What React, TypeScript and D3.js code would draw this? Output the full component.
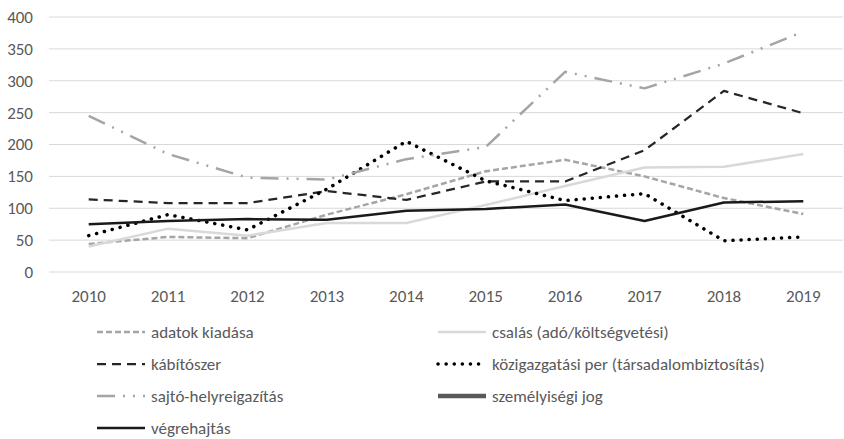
import React from "react";
import * as d3 from "d3";

const years = ["2010", "2011", "2012", "2013", "2014", "2015", "2016", "2017", "2018", "2019"];
const yTicks = [0, 50, 100, 150, 200, 250, 300, 350, 400];

const adatokKiadasa = [44, 55, 53, 90, 122, 158, 176, 150, 116, 91];
const csalas = [40, 68, 57, 77, 77, 105, 135, 164, 165, 185];
const kabitoszer = [114, 108, 108, 127, 113, 142, 142, 191, 284, 249];
const kozigazgatasi = [57, 90, 66, 130, 205, 143, 112, 123, 49, 55];
const sajto = [245, 185, 148, 145, 177, 196, 314, 288, 327, 377];
const szemelyisegi: number[] = [];
const vegrehajtas = [75, 80, 83, 82, 96, 99, 106, 80, 109, 111];

const series = [
  { name: "adatok kiadása", values: adatokKiadasa, color: "#a5a5a5", width: 2.5, dash: "6,3", cap: "butt" },
  { name: "csalás (adó/költségvetési)", values: csalas, color: "#d9d9d9", width: 2.5, dash: "", cap: "butt" },
  { name: "kábítószer", values: kabitoszer, color: "#262626", width: 2.25, dash: "9,6", cap: "butt" },
  { name: "közigazgatási per (társadalombiztosítás)", values: kozigazgatasi, color: "#000000", width: 3.5, dash: "0.1,8", cap: "round" },
  { name: "sajtó-helyreigazítás", values: sajto, color: "#a5a5a5", width: 2.5, dash: "18,8,2,8,2,8", cap: "butt" },
  { name: "személyiségi jog", values: szemelyisegi, color: "#595959", width: 4.5, dash: "", cap: "butt" },
  { name: "végrehajtás", values: vegrehajtas, color: "#1a1a1a", width: 2.5, dash: "", cap: "butt" },
];

const W = 844;
const H = 439;
const font = "Carlito, Calibri, 'Open Sans', sans-serif";
const fs = 17;

export default function App() {
  const x = d3.scaleBand<string>().domain(years).range([49, 843]);
  const y = d3.scaleLinear().domain([0, 400]).range([272, 17]);
  const line = d3
    .line<number>()
    .x((_, i) => (x(years[i]) as number) + x.bandwidth() / 2)
    .y((d) => y(d));

  return (
    <svg width={W} height={H} style={{ position: "absolute", left: 0, top: 0, background: "#fff" }}>
      {yTicks.map((t) => (
        <g key={t}>
          <line x1={49} x2={843} y1={y(t)} y2={y(t)} stroke="#d9d9d9" strokeWidth={1} />
          <text x={33} y={y(t)} dy="0.35em" textAnchor="end" fontSize={fs} fill="#595959" fontFamily={font}>
            {t}
          </text>
        </g>
      ))}
      {years.map((yr) => (
        <text
          key={yr}
          x={(x(yr) as number) + x.bandwidth() / 2}
          y={296}
          dy="0.35em"
          textAnchor="middle"
          fontSize={fs}
          fill="#595959"
          fontFamily={font}
        >
          {yr}
        </text>
      ))}
      {series.map((s) =>
        s.values.length ? (
          <path
            key={s.name}
            d={line(s.values) || ""}
            fill="none"
            stroke={s.color}
            strokeWidth={s.width}
            strokeDasharray={s.dash || undefined}
            strokeLinecap={s.cap as any}
            strokeLinejoin="round"
          />
        ) : null
      )}
      {series.map((s, i) => {
        const col = i % 2;
        const row = Math.floor(i / 2);
        const lx = col === 0 ? 97 : 438;
        const ly = 332 + row * 32;
        return (
          <g key={s.name}>
            <line
              x1={lx}
              x2={lx + 48}
              y1={ly}
              y2={ly}
              stroke={s.color}
              strokeWidth={s.width}
              strokeDasharray={s.dash || undefined}
              strokeLinecap={s.cap as any}
            />
            <text x={lx + 54} y={ly} dy="0.35em" fontSize={fs} fill="#595959" fontFamily={font}>
              {s.name}
            </text>
          </g>
        );
      })}
    </svg>
  );
}
